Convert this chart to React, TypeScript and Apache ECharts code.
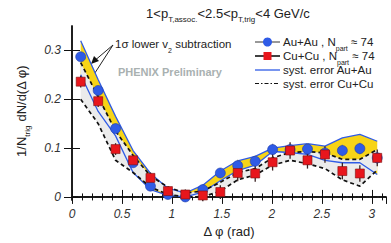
import React, { useEffect, useRef } from "react";
import * as echarts from "echarts";

const PHI = [0.087, 0.262, 0.436, 0.611, 0.785, 0.96, 1.134, 1.309, 1.484, 1.658, 1.833, 2.007, 2.182, 2.356, 2.531, 2.705, 2.88, 3.054];
const AU = [0.287, 0.218, 0.14, 0.07, 0.022, 0.005, 0.0, 0.015, 0.049, 0.064, 0.073, 0.097, 0.097, 0.098, 0.09, 0.095, 0.099, 0.08];
const AU_ERR = [0.008, 0.008, 0.008, 0.007, 0.007, 0.006, 0.006, 0.008, 0.01, 0.012, 0.012, 0.012, 0.012, 0.012, 0.012, 0.012, 0.012, 0.012];
const CU = [0.236, 0.196, 0.098, 0.075, 0.039, 0.012, 0.005, 0.003, 0.01, 0.049, 0.048, 0.071, 0.095, 0.075, 0.087, 0.053, 0.048, 0.08];
const CU_ERR = [0.012, 0.012, 0.012, 0.011, 0.011, 0.01, 0.01, 0.012, 0.014, 0.017, 0.017, 0.017, 0.017, 0.017, 0.017, 0.017, 0.017, 0.017];
const AU_SYS_HI = [0.32, 0.24, 0.165, 0.095, 0.048, 0.018, 0.008, 0.024, 0.053, 0.074, 0.083, 0.1, 0.105, 0.109, 0.104, 0.121, 0.128, 0.114];
const AU_SYS_LO = [0.25, 0.175, 0.125, 0.05, 0.015, 0.003, 0.0, 0.01, 0.033, 0.054, 0.065, 0.093, 0.091, 0.087, 0.075, 0.07, 0.07, 0.046];
const CU_SYS_HI = [0.275, 0.205, 0.135, 0.085, 0.043, 0.02, 0.008, 0.012, 0.03, 0.05, 0.058, 0.08, 0.091, 0.093, 0.09, 0.077, 0.077, 0.097];
const CU_SYS_LO = [0.2, 0.15, 0.075, 0.05, 0.02, 0.005, 0.0, 0.0, 0.012, 0.035, 0.045, 0.065, 0.075, 0.068, 0.058, 0.035, 0.022, 0.055];
const X_TICKS = [0, 0.5, 1, 1.5, 2, 2.5, 3];
const Y_TICKS = [0, 0.1, 0.2, 0.3];

const FONT = "Liberation Sans, Arial, sans-serif";
const BLUE = "#2f5be6";
const RED = "#e8161c";
const YELLOW = "#f7d417";
const GRAY = "#ebebeb";

function bandSeries(lo: number[], hi: number[], fill: string) {
  return {
    type: "custom",
    coordinateSystem: "cartesian2d",
    silent: true,
    data: PHI.map((x, i) => [x, lo[i], hi[i]]),
    encode: { x: 0, y: [1, 2] },
    renderItem: (params: any, api: any) => {
      if (params.dataIndex !== 0) return null;
      const pts: number[][] = [];
      for (let i = 0; i < PHI.length; i++) pts.push(api.coord([PHI[i], hi[i]]));
      for (let i = PHI.length - 1; i >= 0; i--) pts.push(api.coord([PHI[i], lo[i]]));
      return { type: "polygon", shape: { points: pts }, style: { fill, stroke: "none" } };
    },
    z: 1,
  };
}

function errSeries(vals: number[], errs: number[], color: string) {
  return {
    type: "custom",
    coordinateSystem: "cartesian2d",
    silent: true,
    data: PHI.map((x, i) => [x, vals[i] - errs[i], vals[i] + errs[i]]),
    encode: { x: 0, y: [1, 2] },
    renderItem: (params: any, api: any) => {
      const a = api.coord([api.value(0), api.value(1)]);
      const b = api.coord([api.value(0), api.value(2)]);
      return { type: "line", shape: { x1: a[0], y1: a[1], x2: b[0], y2: b[1] }, style: { stroke: color, lineWidth: 1.3 } };
    },
    z: 4,
  };
}

function lineSeries(vals: number[], color: string, type: any, width: number) {
  return {
    type: "line",
    data: PHI.map((x, i) => [x, vals[i]]),
    symbol: "none",
    silent: true,
    lineStyle: { color, type, width },
    z: 3,
  };
}

export default function App() {
  const ref = useRef<HTMLDivElement>(null);
  useEffect(() => {
    document.body.style.margin = "0";
    const chart = echarts.init(ref.current!, undefined, { renderer: "svg" });
    const sub = { fontSize: 8, fontFamily: FONT, verticalAlign: "bottom", lineHeight: 8, padding: [0, 0, -3, 0], color: "#222" };
    const legendX = 255;
    const legendTextX = 283;
    const option: any = {
      animation: false,
      grid: { left: 72, right: 5, top: 26, bottom: 42 },
      xAxis: [
        {
          type: "value", min: 0, max: Math.PI, interval: 0.5,
          name: "Δ φ (rad)", nameLocation: "middle", nameGap: 23,
          nameTextStyle: { fontFamily: FONT, fontSize: 13, color: "#222" },
          axisLine: { lineStyle: { color: "#111", width: 1.5 } },
          axisTick: { inside: true, length: 7, lineStyle: { color: "#111" }, customValues: X_TICKS },
          minorTick: { show: true, splitNumber: 5, length: 3.5, lineStyle: { color: "#111" } },
          axisLabel: { fontFamily: FONT, fontSize: 12, fontStyle: "italic", color: "#333", margin: 8, customValues: X_TICKS },
          splitLine: { show: false },
        },
        {
          type: "value", position: "top", min: 0, max: Math.PI, interval: 0.5,
          axisLine: { lineStyle: { color: "#111", width: 1.5 } },
          axisTick: { inside: true, length: 7, lineStyle: { color: "#111" } },
          minorTick: { show: true, splitNumber: 5, length: 3.5, lineStyle: { color: "#111" } },
          axisLabel: { show: false },
          splitLine: { show: false },
        },
      ],
      yAxis: [
        {
          type: "value", min: -0.0065, max: 0.35,
          axisLine: { show: true, lineStyle: { color: "#111", width: 1.5 } },
          axisTick: { show: true, inside: true, length: 8, lineStyle: { color: "#111" }, customValues: Y_TICKS },
          axisLabel: { fontFamily: FONT, fontSize: 12, fontStyle: "italic", color: "#333", margin: 11, customValues: Y_TICKS, formatter: (v: number) => String(Number(v.toFixed(2))) },
          splitLine: { show: false },
        },
        {
          type: "value", position: "right", min: -0.0065, max: 0.35,
          axisLine: { show: true, lineStyle: { color: "#111", width: 1.5 } },
          axisTick: { show: true, inside: true, length: 8, lineStyle: { color: "#111" }, customValues: Y_TICKS },
          axisLabel: { show: false },
          splitLine: { show: false },
        },
      ],
      series: [
        bandSeries(AU_SYS_LO, AU_SYS_HI, YELLOW),
        { ...bandSeries(CU_SYS_LO, CU_SYS_HI, GRAY), z: 2 },
        {
          type: "line", data: [[0, 0], [Math.PI, 0]], symbol: "none", silent: true,
          lineStyle: { color: "#111", type: [6, 2, 1.5, 2], width: 1 }, z: 2,
        },
        lineSeries(AU_SYS_HI, BLUE, "solid", 1.3),
        lineSeries(AU_SYS_LO, BLUE, "solid", 1.3),
        lineSeries(CU_SYS_HI, "#111", [4, 3], 1.7),
        lineSeries(CU_SYS_LO, "#111", [4, 3], 1.7),
        errSeries(AU, AU_ERR, "#8a8a8a"),
        errSeries(CU, CU_ERR, "#3a2222"),
        {
          type: "scatter", data: PHI.map((x, i) => [x, AU[i]]), symbol: "circle", symbolSize: 10,
          itemStyle: { color: BLUE, borderColor: "#1d3aa8", borderWidth: 0.6, opacity: 1 }, z: 5, silent: true,
        },
        {
          type: "scatter", data: PHI.map((x, i) => [x, CU[i]]), symbol: "rect", symbolSize: 9,
          itemStyle: { color: RED, borderColor: "#7a1010", borderWidth: 0.6, opacity: 1 }, z: 6, silent: true,
        },
      ],
      graphic: [
        {
          type: "text", x: 228, y: 13,
          style: {
            text: "1<p{sub|T,assoc.}<2.5<p{sub|T,trig}<4 GeV/c",
            fontFamily: FONT, fontSize: 13, fill: "#222", align: "center", verticalAlign: "middle", lineHeight: 15,
            rich: { sub },
          },
        },
        {
          type: "text", x: 21, y: 111, rotation: Math.PI / 2,
          style: {
            text: "1/N{sub|trig} dN/d(Δ φ)",
            fontFamily: FONT, fontSize: 13, fill: "#222", align: "center", verticalAlign: "middle", lineHeight: 15,
            rich: { sub },
          },
        },
        {
          type: "text", x: 115, y: 44,
          style: { text: "1σ lower v{sub|2} subtraction", fontFamily: FONT, fontSize: 11.5, fill: "#222", verticalAlign: "middle", lineHeight: 13, rich: { sub: { ...sub, fontSize: 7 } } },
        },
        { type: "line", shape: { x1: 113, y1: 45, x2: 93, y2: 62 }, style: { stroke: "#222", lineWidth: 1 } },
        { type: "line", shape: { x1: 113, y1: 45, x2: 91, y2: 79 }, style: { stroke: "#222", lineWidth: 1 } },
        { type: "polygon", shape: { points: [[91, 64], [94, 56], [99, 61]] }, style: { fill: "#111" } },
        { type: "polygon", shape: { points: [[90, 81], [90, 73], [96, 76]] }, style: { fill: "#111" } },
        {
          type: "text", x: 118, y: 72,
          style: { text: "PHENIX Preliminary", fontFamily: FONT, fontSize: 11, fontWeight: "bold", fill: "#a9b1b1", verticalAlign: "middle" },
        },
        { type: "line", shape: { x1: legendX, y1: 42, x2: 280, y2: 42 }, style: { stroke: "#333", lineWidth: 1 } },
        { type: "circle", shape: { cx: 267.5, cy: 42, r: 4.5 }, style: { fill: BLUE } },
        { type: "text", x: legendTextX, y: 42, style: { text: "Au+Au , N{sub|part} ≈ 74", fontFamily: FONT, fontSize: 11.5, fill: "#222", verticalAlign: "middle", lineHeight: 13, rich: { sub: { ...sub, fontSize: 7 } } } },
        { type: "line", shape: { x1: legendX, y1: 56, x2: 280, y2: 56 }, style: { stroke: "#111", lineWidth: 1.6 } },
        { type: "rect", shape: { x: 263.5, y: 52, width: 8, height: 8 }, style: { fill: RED } },
        { type: "text", x: legendTextX, y: 56, style: { text: "Cu+Cu , N{sub|part} ≈ 74", fontFamily: FONT, fontSize: 11.5, fill: "#222", verticalAlign: "middle", lineHeight: 13, rich: { sub: { ...sub, fontSize: 7 } } } },
        { type: "line", shape: { x1: legendX, y1: 70, x2: 280, y2: 70 }, style: { stroke: BLUE, lineWidth: 1.3 } },
        { type: "text", x: legendTextX, y: 70, style: { text: "syst. error Au+Au", fontFamily: FONT, fontSize: 11.5, fill: "#222", verticalAlign: "middle" } },
        { type: "line", shape: { x1: legendX, y1: 83.5, x2: 280, y2: 83.5 }, style: { stroke: "#111", lineWidth: 1.2, lineDash: [4, 2, 1.5, 2] } },
        { type: "text", x: legendTextX, y: 83.5, style: { text: "syst. error Cu+Cu", fontFamily: FONT, fontSize: 11.5, fill: "#222", verticalAlign: "middle" } },
      ],
    };
    chart.setOption(option);
    return () => chart.dispose();
  }, []);
  return <div ref={ref} style={{ width: 391, height: 243 }} />;
}
